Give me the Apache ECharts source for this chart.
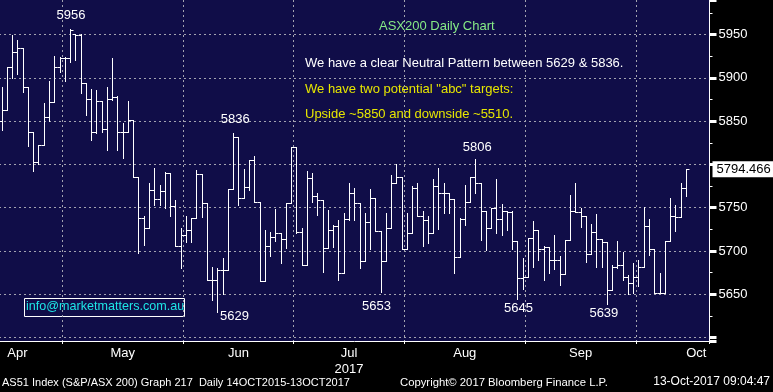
<!DOCTYPE html>
<html><head><meta charset="utf-8">
<script src="https://cdn.jsdelivr.net/npm/echarts@6/dist/echarts.min.js"></script>
<style>html,body{margin:0;padding:0;background:#000}#c{width:773px;height:392px}</style>
</head><body><div id="c"></div>
<script>
const monthNames = ['Apr','May','Jun','Jul','Aug','Sep','Oct'];
const monthBarCounts = [12,23,21,21,23,21,10];
const yearLabel = '2017';
const yTickLabels = [5650,5700,5750,5850,5900,5950];
const openVals = [
5850,5863,5913,5930,5934,5890,5837,5803,5822,5855,
5872,5913,5923,5923,5951,5950,5894,5876,5837,5873,
5841,5876,5878,5837,5838,5851,5786,5738,5727,5771,
5760,5769,5790,5752,5706,5718,5724,5738,5789,5755,
5667,5667,5678,5678,5772,5832,5761,5774,5805,5757,
5665,5706,5716,5721,5714,5756,5820,5722,5684,5784,
5764,5759,5703,5724,5729,5674,5737,5767,5756,5688,
5733,5761,5723,5689,5727,5778,5786,5702,5721,5773,
5740,5736,5721,5775,5767,5767,5760,5693,5737,5757,
5786,5779,5746,5727,5750,5737,5746,5745,5711,5669,
5670,5715,5724,5702,5705,5690,5690,5673,5713,5746,
5745,5740,5696,5722,5714,5710,5655,5681,5684,5670,
5663,5670,5681,5729,5702,5651,5651,5711,5740,5739,
5773];
const highVals = [
5890,5913,5950,5944,5934,5890,5837,5822,5871,5896,
5925,5924,5924,5956,5951,5951,5894,5887,5886,5873,
5890,5923,5879,5848,5873,5851,5786,5740,5778,5796,
5776,5791,5790,5759,5726,5740,5738,5794,5789,5755,
5682,5680,5692,5772,5836,5832,5795,5805,5810,5757,
5724,5722,5749,5721,5756,5820,5820,5726,5792,5790,
5767,5759,5747,5730,5736,5744,5779,5773,5756,5744,
5772,5761,5723,5744,5788,5800,5786,5744,5775,5779,
5746,5740,5783,5796,5779,5767,5760,5738,5776,5786,
5806,5779,5746,5750,5783,5754,5746,5746,5711,5692,
5715,5735,5724,5706,5705,5719,5694,5713,5765,5778,
5750,5740,5731,5743,5714,5710,5684,5711,5699,5672,
5686,5690,5751,5737,5702,5674,5711,5761,5753,5779,
5795];
const lowVals = [
5840,5863,5900,5905,5884,5821,5792,5800,5822,5850,
5872,5907,5896,5918,5921,5883,5857,5828,5836,5837,
5817,5875,5817,5807,5837,5786,5698,5707,5727,5753,
5753,5750,5740,5706,5680,5710,5710,5738,5739,5667,
5643,5629,5650,5678,5772,5753,5761,5771,5757,5665,
5665,5694,5712,5686,5703,5756,5721,5684,5684,5757,
5742,5676,5703,5705,5667,5674,5736,5736,5680,5688,
5702,5723,5653,5689,5727,5778,5702,5702,5721,5740,
5706,5709,5721,5725,5744,5744,5675,5693,5730,5757,
5767,5713,5701,5727,5721,5719,5724,5702,5645,5656,
5670,5682,5690,5667,5675,5679,5661,5673,5713,5745,
5728,5687,5696,5681,5681,5639,5655,5680,5667,5650,
5651,5660,5681,5695,5651,5651,5651,5711,5723,5739,
5764];
const closeVals = [
5863,5913,5930,5934,5890,5837,5803,5822,5855,5872,
5913,5923,5923,5955,5950,5894,5876,5837,5873,5841,
5876,5878,5837,5838,5851,5786,5738,5727,5771,5760,
5769,5790,5752,5706,5718,5724,5738,5789,5755,5667,
5667,5678,5678,5772,5832,5761,5774,5805,5757,5665,
5706,5716,5721,5714,5756,5820,5722,5684,5784,5764,
5759,5703,5724,5729,5674,5737,5767,5756,5688,5733,
5761,5723,5689,5727,5778,5786,5702,5721,5773,5740,
5736,5721,5775,5767,5767,5760,5693,5737,5757,5786,
5779,5746,5727,5750,5737,5746,5745,5711,5669,5670,
5715,5724,5702,5705,5690,5690,5673,5713,5746,5745,
5740,5696,5722,5714,5710,5655,5681,5684,5670,5663,
5670,5681,5729,5702,5651,5651,5711,5740,5739,5773,
5794.466];
const extremeIdx = [13,44,41,72,90,98,115];
const extremeKind = ['high','high','low','low','high','low','low'];

// ---- build categories (trading days) ----
const categories = [];
const monthStart = [];
monthNames.forEach((m, k) => {
  monthStart.push(categories.length);
  for (let d = 1; d <= monthBarCounts[k]; d++) categories.push(m + ' ' + d);
});
for (let e = 1; e <= 4; e++) categories.push('pad ' + e);
const boundarySet = new Set(monthStart.slice(1));
const labelCat = [3, 23, 45, 66, 88, 110, 132];
const labelMonth = {};
labelCat.forEach((c, k) => { labelMonth[c] = monthNames[k]; });
const lastPrice = closeVals[closeVals.length - 1];

const FONT = '"Liberation Sans", Arial, sans-serif';
const GRID_COLOR = '#a3a3b0';
const extremeOffsets = [[1,-14],[2,-14],[17,4],[-4,15],[2,-12],[1,10],[-3,10]];

const seriesData = closeVals.map((c, i) => [i, openVals[i], highVals[i], lowVals[i], c]);

function renderItem(params, api) {
  const i = api.value(0);
  const pO = api.coord([i, api.value(1)]);
  const pH = api.coord([i, api.value(2)]);
  const pL = api.coord([i, api.value(3)]);
  const pC = api.coord([i, api.value(4)]);
  const band = api.size([1, 0])[0];
  const x = Math.round(pH[0]) + 0.5;
  const t = Math.ceil(band / 2);
  const yo = Math.round(pO[1]) + 0.5, yc = Math.round(pC[1]) + 0.5;
  const style = { stroke: '#ffffff', lineWidth: 1 };
  return { type: 'group', children: [
    { type: 'line', shape: { x1: x, y1: Math.round(pH[1]), x2: x, y2: Math.round(pL[1]) + 1 }, style },
    { type: 'line', shape: { x1: x - t, y1: yo, x2: x, y2: yo }, style },
    { type: 'line', shape: { x1: x, y1: yc, x2: x + t, y2: yc }, style }
  ]};
}

const chart = echarts.init(document.getElementById('c'), null, { renderer: 'canvas' });
chart.setOption({
  backgroundColor: '#000000',
  animation: false,
  textStyle: { fontFamily: FONT },
  grid: { left: -1, right: 63.5, top: 0, bottom: 51, show: true, backgroundColor: '#100d48', borderWidth: 0, containLabel: false, outerBoundsMode: 'none' },
  xAxis: {
    type: 'category', data: categories, boundaryGap: true,
    axisLine: { show: true, onZero: false, lineStyle: { color: '#ffffff', width: 1 } },
    axisTick: { show: true, length: 3, interval: (idx) => boundarySet.has(idx), lineStyle: { color: '#ffffff' } },
    axisLabel: {
      interval: (idx) => labelMonth[idx] !== undefined,
      formatter: (v, idx) => { const m = labelMonth[idx] || ''; return m === 'Jul' ? m + '\n' + yearLabel : m; },
      color: '#ffffff', fontSize: 13, margin: 4, lineHeight: 16, fontFamily: FONT
    },
    splitLine: { show: true, interval: (idx) => boundarySet.has(idx), lineStyle: { color: GRID_COLOR, type: [2, 3], width: 1 } }
  },
  yAxis: {
    type: 'value', position: 'right', min: 5596, max: 5990, splitNumber: 8, minInterval: 50, maxInterval: 50,
    axisLine: { show: true, lineStyle: { color: '#ffffff', width: 1 } },
    axisTick: { show: true, length: 7, lineStyle: { color: '#ffffff', width: 3 } },
    minorTick: { show: true, splitNumber: 2, length: 3, lineStyle: { color: '#ffffff', width: 1 } },
    axisLabel: { color: '#ffffff', fontSize: 13, margin: 9, fontFamily: FONT,
      formatter: (v) => yTickLabels.includes(v) ? String(v) : '' },
    splitLine: { show: true, showMinLine: false, showMaxLine: false, lineStyle: { color: GRID_COLOR, type: [2, 3], width: 1 } }
  },
  series: [{
    type: 'custom', renderItem, data: seriesData, encode: { x: 0, y: [1, 2, 3, 4] },
    markLine: {
      silent: true, symbol: ['none', 'none'], lineStyle: { color: 'rgba(0,0,0,0)', width: 1, type: 'solid' },
      label: { show: true, position: 'end', distance: 3, formatter: () => lastPrice.toFixed(3),
        backgroundColor: '#ffffff', color: '#000000', padding: [2, 3, 1, 4], fontSize: 13, fontFamily: FONT },
      emphasis: { disabled: true },
      data: [{ yAxis: lastPrice }]
    },
    markPoint: {
      silent: true, symbol: 'circle', symbolSize: 0,
      label: { show: true, color: '#ffffff', fontSize: 13, fontFamily: FONT, position: 'inside' },
      data: extremeIdx.map((idx, k) => {
        const v = extremeKind[k] === 'high' ? highVals[idx] : lowVals[idx];
        return { coord: [idx, v], value: v, label: { offset: extremeOffsets[k], formatter: String(Math.round(v)) } };
      })
    }
  }],
  graphic: [
    { type: 'text', left: 379, top: 20, style: { text: 'ASX200 Daily Chart', fill: '#86ea86', font: '13px ' + FONT } },
    { type: 'text', left: 305, top: 57, style: { text: 'We have a clear Neutral Pattern between 5629 & 5836.', fill: '#ffffff', font: '13px ' + FONT } },
    { type: 'text', left: 305, top: 83, style: { text: 'We have two potential "abc" targets:', fill: '#e6e600', font: '13px ' + FONT } },
    { type: 'text', left: 305, top: 108, style: { text: 'Upside ~5850 and downside ~5510.', fill: '#e6e600', font: '13px ' + FONT } },
    { type: 'rect', left: 24, top: 298, shape: { width: 160, height: 18 }, style: { fill: 'transparent', stroke: '#ffffff', lineWidth: 1 } },
    { type: 'text', left: 26, top: 300, style: { text: 'info@marketmatters.com.au', fill: '#1ee6e6', font: '12.6px ' + FONT } },
    { type: 'text', left: 2, top: 377, style: { text: 'AS51 Index (S&P/ASX 200) Graph 217  Daily 14OCT2015-13OCT2017', fill: '#ffffff', font: '11px ' + FONT } },
    { type: 'text', left: 400, top: 377, style: { text: 'Copyright\u00a9 2017 Bloomberg Finance L.P.', fill: '#ffffff', font: '11.3px ' + FONT } },
    { type: 'text', right: 3, top: 376, style: { text: '13-Oct-2017 09:04:47', fill: '#ffffff', font: '12px ' + FONT } }
  ]
});
</script></body></html>
